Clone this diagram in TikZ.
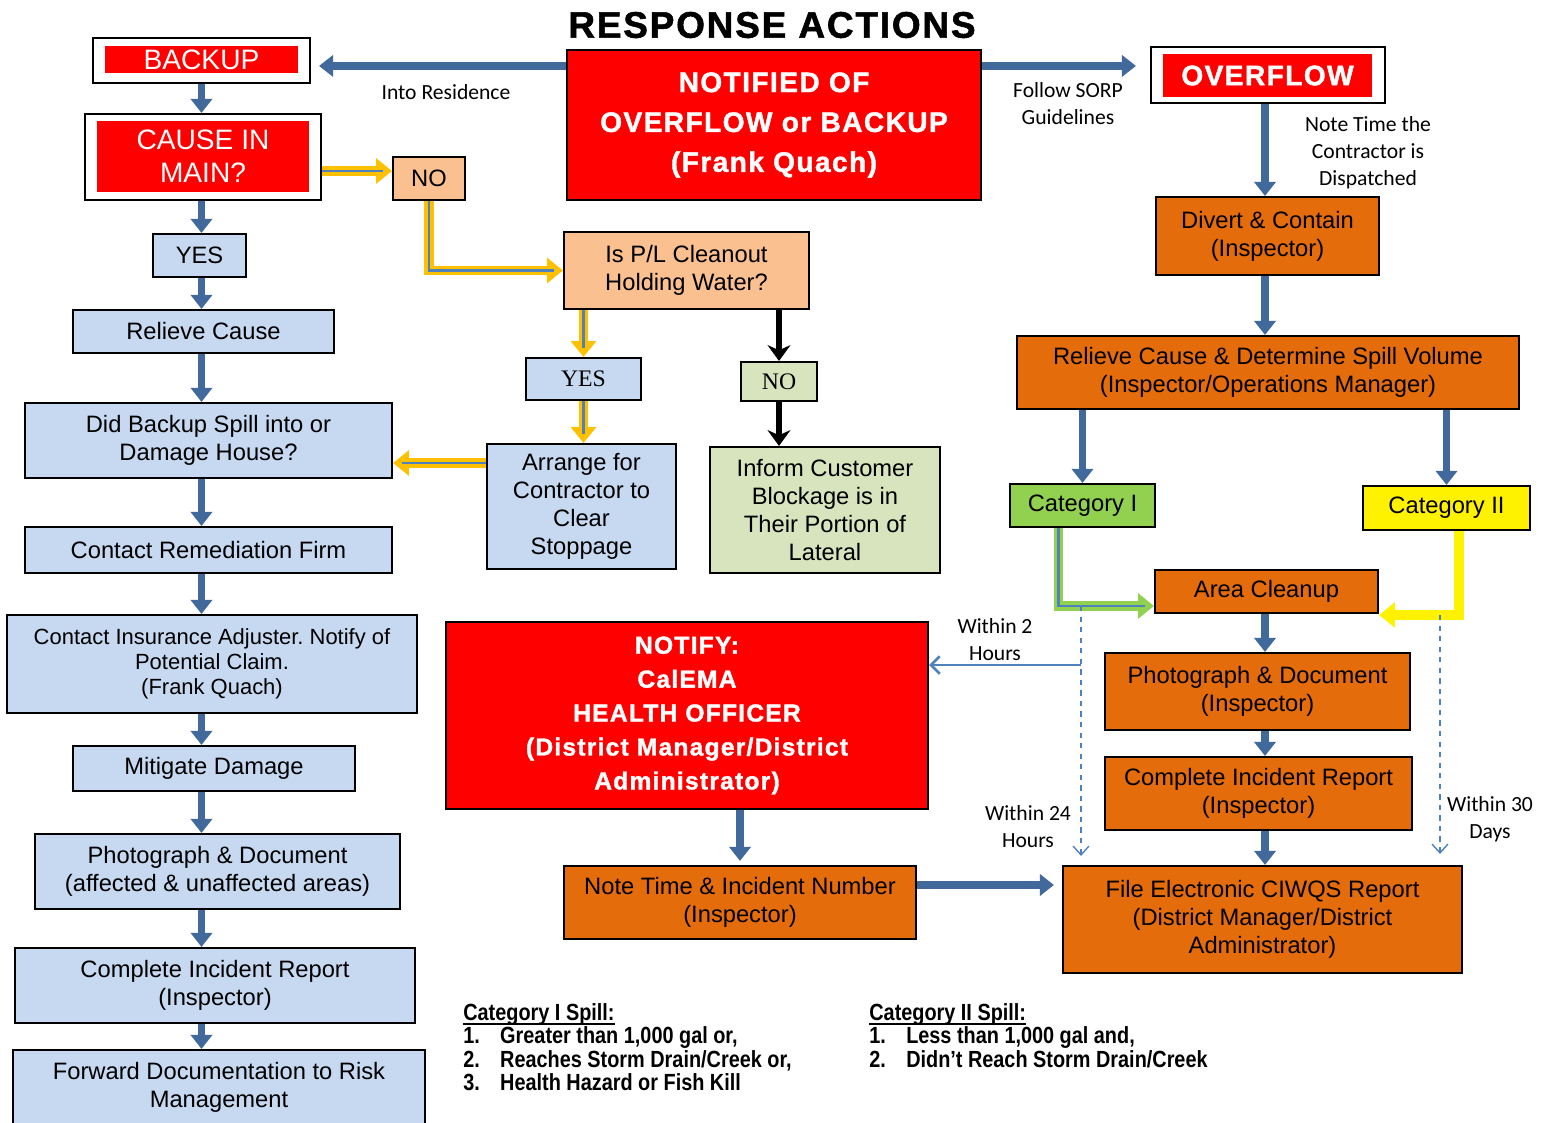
\documentclass[tikz,border=0pt]{standalone}
\usepackage{fontspec}
\setmainfont{Liberation Sans}
\newfontfamily\calfont{Carlito}
\newfontfamily\timesfont{Liberation Serif}
\newfontfamily\narrowfont{Liberation Sans}[FakeStretch=0.85]
\newfontfamily\heavyfont{Liberation Sans Bold}[FakeBold=1.5, LetterSpace=5]
\usetikzlibrary{arrows.meta,calc}
\definecolor{boxblue}{HTML}{C6D9F1}
\definecolor{boxorange}{HTML}{E46C0A}
\definecolor{boxpeach}{HTML}{FAC090}
\definecolor{boxsage}{HTML}{D7E4BD}
\definecolor{catgreen}{HTML}{92D050}
\definecolor{arrowblue}{HTML}{41699B}
\definecolor{lineblue}{HTML}{4F81BD}
\definecolor{gold}{HTML}{FFC000}
\newcommand\legendhead[1]{\setbox0\hbox{#1}\rlap{\rule[-2.4pt]{\wd0}{0.9pt}}\box0}
\frenchspacing

\begin{document}
\begin{tikzpicture}[
    box/.style={draw, rectangle, line width=1.2pt, align=center, inner sep=2pt, font=\fontsize{13.5}{15.8}\selectfont},
    bluebox/.style={box, fill=boxblue},
    orangebox/.style={box, fill=boxorange},
    peachbox/.style={box, fill=boxpeach},
    sagebox/.style={box, fill=boxsage},
    bigred/.style={box, fill=red, text=white},
    framebox/.style={draw, rectangle, line width=1.2pt, fill=white},
    redtag/.style={rectangle, fill=red, text=white, align=center, inner sep=0pt},
    note/.style={align=center, font=\calfont\fontsize{12.3}{15.3}\selectfont},
    legend/.style={anchor=north west, align=left, inner sep=0pt, font=\narrowfont\bfseries\fontsize{13.3}{13.4}\selectfont},
    flow/.style={draw=arrowblue, line width=4.5pt, -{Triangle[length=8pt,width=12pt]}},
    blackflow/.style={draw=black, line width=3pt, -{Stealth[length=9pt,width=13pt]}},
    goldflow/.style={draw=gold, line width=5.5pt, -{Triangle[length=9pt,width=14pt]},
        postaction={draw=lineblue, line width=1.2pt, -, shorten >=5pt}},
    greenflow/.style={goldflow, draw=catgreen},
    yellowflow/.style={draw=yellow, line width=5.5pt, -{Triangle[length=9pt,width=14pt]}},
    thinflow/.style={draw=lineblue, line width=1.5pt, -{Straight Barb[length=5pt,width=10pt]}},
    dashflow/.style={draw=lineblue, line width=0.8pt, dashed, -{Straight Barb[length=5pt,width=9pt]}}
]
\useasboundingbox (0,0) rectangle (30.88,-22.46);

    % Title
    \node[font=\heavyfont\fontsize{21}{24}\selectfont] (title) at (15.44,-0.5) {RESPONSE ACTIONS};
    \node[bigred, minimum width=8.28cm, minimum height=3cm, font=\heavyfont\fontsize{16}{22.7}\selectfont] (notified) at (15.48,-2.5) {NOTIFIED OF\\OVERFLOW or BACKUP\\(Frank Quach)};

    % Backup side
    \node[framebox, minimum width=4.34cm, minimum height=0.9cm] (backup) at (4.03,-1.21) {};
    \node[redtag, minimum width=3.86cm, minimum height=0.54cm, font=\fontsize{16}{18.7}\selectfont] (backuptag) at (4.03,-1.19) {BACKUP};
    \node[framebox, minimum width=4.72cm, minimum height=1.72cm] (cause) at (4.06,-3.14) {};
    \node[redtag, minimum width=4.24cm, minimum height=1.42cm, font=\fontsize{16}{18.7}\selectfont] (causetag) at (4.06,-3.13) {CAUSE IN\\MAIN?};
    \node[peachbox, minimum width=1.44cm, minimum height=0.86cm] (no1) at (8.58,-3.57) {NO};
    \node[bluebox, minimum width=1.86cm, minimum height=0.86cm] (yes1) at (3.99,-5.11) {YES};
    \node[bluebox, minimum width=5.22cm, minimum height=0.86cm] (relieve) at (4.07,-6.63) {Relieve Cause};
    \node[bluebox, minimum width=7.34cm, minimum height=1.5cm] (spill) at (4.17,-8.81) {Did Backup Spill into or\\Damage House?};
    \node[bluebox, minimum width=7.34cm, minimum height=0.92cm] (remed) at (4.17,-11.0) {Contact Remediation Firm};
    \node[bluebox, minimum width=8.2cm, minimum height=1.96cm, font=\fontsize{12.5}{14.2}\selectfont] (adjuster) at (4.24,-13.28) {Contact Insurance Adjuster. Notify of\\Potential Claim.\\(Frank Quach)};
    \node[bluebox, minimum width=5.64cm, minimum height=0.9cm] (mitigate) at (4.28,-15.37) {Mitigate Damage};
    \node[bluebox, minimum width=7.3cm, minimum height=1.5cm] (photoleft) at (4.35,-17.43) {Photograph \& Document\\(affected \& unaffected areas)};
    \node[bluebox, minimum width=8cm, minimum height=1.5cm] (reportleft) at (4.30,-19.71) {Complete Incident Report\\(Inspector)};
    \node[bluebox, minimum width=8.24cm, minimum height=1.5cm] (forward) at (4.38,-21.75) {Forward Documentation to Risk\\Management};

    % Cleanout check
    \node[peachbox, minimum width=4.9cm, minimum height=1.54cm] (cleanout) at (13.73,-5.41) {Is P/L Cleanout\\Holding Water?};
    \node[bluebox, minimum width=2.3cm, minimum height=0.84cm, font=\timesfont\fontsize{13.5}{15.8}\selectfont] (yes2) at (11.67,-7.58) {YES};
    \node[sagebox, minimum width=1.52cm, minimum height=0.78cm, font=\timesfont\fontsize{13.5}{15.8}\selectfont] (no2) at (15.58,-7.63) {NO};
    \node[bluebox, minimum width=3.78cm, minimum height=2.5cm] (arrange) at (11.63,-10.13) {Arrange for\\Contractor to\\Clear\\Stoppage};
    \node[sagebox, minimum width=4.6cm, minimum height=2.52cm] (inform) at (16.5,-10.2) {Inform Customer\\Blockage is in\\Their Portion of\\Lateral};

    % Overflow side
    \node[framebox, minimum width=4.68cm, minimum height=1.12cm] (overflow) at (25.36,-1.5) {};
    \node[redtag, minimum width=4.18cm, minimum height=0.86cm, font=\heavyfont\fontsize{16}{20}\selectfont] (overflowtag) at (25.35,-1.51) {OVERFLOW};
    \node[orangebox, minimum width=4.46cm, minimum height=1.56cm] (divert) at (25.35,-4.72) {Divert \& Contain\\(Inspector)};
    \node[orangebox, minimum width=10.04cm, minimum height=1.46cm] (volume) at (25.36,-7.45) {Relieve Cause \& Determine Spill Volume\\(Inspector/Operations Manager)};
    \node[box, fill=catgreen, minimum width=2.9cm, minimum height=0.86cm] (cat1) at (21.65,-10.11) {Category I};
    \node[box, fill=yellow, minimum width=3.34cm, minimum height=0.88cm] (cat2) at (28.93,-10.16) {Category II};
    \node[orangebox, minimum width=4.46cm, minimum height=0.86cm] (cleanup) at (25.33,-11.83) {Area Cleanup};
    \node[orangebox, minimum width=6.1cm, minimum height=1.54cm] (photoright) at (25.15,-13.83) {Photograph \& Document\\(Inspector)};
    \node[orangebox, minimum width=6.14cm, minimum height=1.46cm] (reportright) at (25.17,-15.87) {Complete Incident Report\\(Inspector)};
    \node[orangebox, minimum width=7.98cm, minimum height=2.14cm] (ciwqs) at (25.25,-18.39) {File Electronic CIWQS Report\\(District Manager/District\\Administrator)};

    % Notification
    \node[bigred, minimum width=9.64cm, minimum height=3.74cm, font=\heavyfont\fontsize{14}{19.3}\selectfont] (notify) at (13.74,-14.31) {NOTIFY:\\CalEMA\\HEALTH OFFICER\\(District Manager/District\\Administrator)};
    \node[orangebox, minimum width=7.04cm, minimum height=1.46cm] (notetime) at (14.8,-18.05) {Note Time \& Incident Number\\(Inspector)};

    % Labels
    \node[note] (intores) at (8.92,-1.84) {Into Residence};
    \node[note] (sorp) at (21.36,-2.07) {Follow SORP\\Guidelines};
    \node[note] (dispatch) at (27.36,-3.06) {Note Time the\\Contractor is\\Dispatched};
    \node[note] (within2) at (19.9,-12.79) {Within 2\\Hours};
    \node[note] (within24) at (20.56,-16.53) {Within 24\\Hours};
    \node[note] (within30) at (29.8,-16.39) {Within 30\\Days};

    % Legend
    \node[legend] (legend1) at (9.26,-20.06) {\legendhead{Category I Spill:}\\\makebox[21pt][l]{1.}Greater than 1,000 gal or,\\\makebox[21pt][l]{2.}Reaches Storm Drain/Creek or,\\\makebox[21pt][l]{3.}Health Hazard or Fish Kill};
    \node[legend] (legend2) at (17.38,-20.06) {\legendhead{Category II Spill:}\\\makebox[21pt][l]{1.}Less than 1,000 gal and,\\\makebox[21pt][l]{2.}Didn’t Reach Storm Drain/Creek};

    % Arrows
    \coordinate (leftcol) at (4.03,0);
    \coordinate (rightcol) at (25.3,0);
    \coordinate (toparrow) at ([yshift=-0.34cm]notified.north west);
    \coordinate (toparrowr) at ([yshift=-0.34cm]notified.north east);
    \draw[flow, shorten >=0.16cm] (toparrow) -- (toparrow -| backup.east);
    \draw[flow, shorten >=0.28cm] (toparrowr) -- (toparrowr -| overflow.west);

    \draw[flow] (backup.south -| leftcol) -- (cause.north -| leftcol);
    \draw[flow] (cause.south -| leftcol) -- (yes1.north -| leftcol);
    \draw[flow] (yes1.south -| leftcol) -- (relieve.north -| leftcol);
    \draw[flow] (relieve.south -| leftcol) -- (spill.north -| leftcol);
    \draw[flow] (spill.south -| leftcol) -- (remed.north -| leftcol);
    \draw[flow] (remed.south -| leftcol) -- (adjuster.north -| leftcol);
    \draw[flow] (adjuster.south -| leftcol) -- (mitigate.north -| leftcol);
    \draw[flow] (mitigate.south -| leftcol) -- (photoleft.north -| leftcol);
    \draw[flow] (photoleft.south -| leftcol) -- (reportleft.north -| leftcol);
    \draw[flow] (reportleft.south -| leftcol) -- (forward.north -| leftcol);

    \coordinate (nohook) at ([yshift=-0.28cm]cause.east);
    \draw[goldflow] (nohook) -- (nohook -| no1.west);
    \draw[goldflow] (no1.south) |- (cleanout.west);
    \draw[goldflow] (cleanout.south -| yes2.north) -- (yes2.north);
    \draw[goldflow] (yes2.south) -- (yes2.south |- arrange.north);
    \coordinate (backhook) at ([yshift=0.87cm]arrange.west);
    \draw[goldflow] (backhook) -- (backhook -| spill.east);
    \draw[blackflow] (cleanout.south -| no2.north) -- (no2.north);
    \draw[blackflow] (no2.south) -- (no2.south |- inform.north);

    \draw[flow] (overflow.south -| rightcol) -- (divert.north -| rightcol);
    \draw[flow] (divert.south -| rightcol) -- (volume.north -| rightcol);
    \draw[flow] (volume.south -| cat1.north) -- (cat1.north);
    \draw[flow] (volume.south -| cat2.north) -- (cat2.north);
    \coordinate (cat1drop) at ([xshift=-0.48cm]cat1.south);
    \coordinate (cleanuplow) at ([yshift=-0.29cm]cleanup.west);
    \draw[greenflow] (cat1drop) |- (cleanuplow);
    \coordinate (cat2drop) at ([xshift=0.25cm]cat2.south);
    \coordinate (cleanupedge) at ([yshift=-0.47cm]cleanup.east);
    \draw[yellowflow] (cat2drop) |- (cleanupedge);
    \draw[flow] (cleanup.south -| rightcol) -- (photoright.north -| rightcol);
    \draw[flow] (photoright.south -| rightcol) -- (reportright.north -| rightcol);
    \draw[flow] (reportright.south -| rightcol) -- (ciwqs.north -| rightcol);

    \coordinate (split24) at (21.62,-12.12);
    \coordinate (split2) at (21.62,-13.3);
    \coordinate (split30) at (28.8,-12.3);
    \draw[dashflow, shorten >=0.18cm] (split24) -- (split24 |- ciwqs.north);
    \draw[dashflow, shorten >=0.22cm] (split30) -- (split30 |- ciwqs.north);
    \draw[thinflow] (split2) -- (split2 -| notify.east);

    \draw[flow, shorten >=0.08cm] (notify.south -| notetime.north) -- (notetime.north);
    \coordinate (ciwqsfeed) at ([yshift=0.35cm]notetime.east);
    \draw[flow, shorten >=0.16cm] (ciwqsfeed) -- (ciwqsfeed -| ciwqs.west);
\end{tikzpicture}
\end{document}
